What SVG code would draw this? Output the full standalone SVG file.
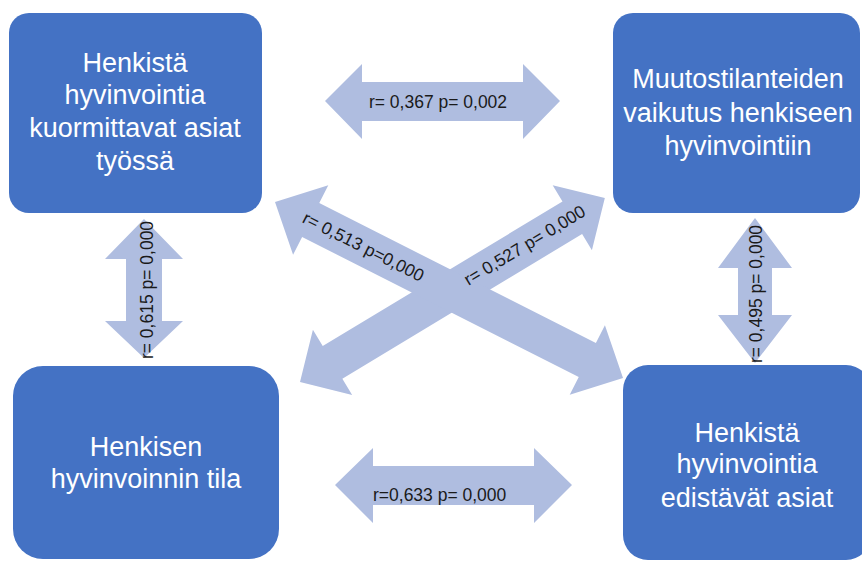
<svg xmlns="http://www.w3.org/2000/svg" width="862" height="561" viewBox="0 0 862 561">
<style>
.box{fill:#4472C4;}
.bt{font-family:"Liberation Sans",Arial,sans-serif;font-size:27px;fill:#FFFFFF;text-anchor:middle;}
.arr{fill:#AFBDE0;}
.lbl{font-family:"Liberation Sans",Arial,sans-serif;font-size:17.5px;fill:#1a1a1a;}
.mid{text-anchor:middle;}
</style>
<rect width="862" height="561" fill="#FFFFFF"/>
<g id="connectors">
  <polygon id="arrow-top" class="arr" points="325,101 362,64 362,82 523,82 523,64 560,101 523,139 523,121 362,121 362,139"/>
  <polygon id="arrow-bottom" class="arr" points="335,485 373,448 373,466 534,466 534,448 572,485 534,523 534,505 373,505 373,523"/>
  <polygon id="arrow-left" class="arr" points="144,219 183,259 162,259 162,321 183,321 144,358 105,321 126,321 126,259 105,259"/>
  <polygon id="arrow-right" class="arr" points="755,218 792,268 772,268 772,315 792,315 755,363 718,315 738,315 738,268 718,268"/>
  <polygon id="arrow-diag-b" class="arr" transform="translate(300,382) rotate(-31.1)" points="0,0 38,-38 38,-19 318,-19 318,-38 356,0 318,38 318,19 38,19 38,38"/>
  <polygon id="arrow-diag-a" class="arr" transform="translate(275,202) rotate(26.83)" points="0,0 40,-39 40,-19 350,-19 350,-39 390,0 350,39 350,19 40,19 40,39"/>
  <text class="lbl mid" x="438" y="108">r= 0,367 p= 0,002</text>
  <text class="lbl" x="373" y="501">r=0,633 p= 0,000</text>
  <text class="lbl mid" transform="translate(153,290) rotate(-90)">r= 0,615 p= 0,000</text>
  <text class="lbl mid" transform="translate(762,294) rotate(-90)">r= 0,495 p= 0,000</text>
  <text class="lbl mid" transform="translate(300,382) rotate(-31.1)" x="263" y="5">r= 0,527 p= 0,000</text>
  <text class="lbl mid" transform="translate(275,202) rotate(26.83)" x="99" y="6">r= 0,513 p=0,000</text>
</g>
<g id="node-kuormittavat">
  <rect class="box" x="9" y="13" width="253" height="200" rx="20"/>
  <text class="bt" x="135" y="72">Henkistä</text>
  <text class="bt" x="135" y="104">hyvinvointia</text>
  <text class="bt" x="135" y="137">kuormittavat asiat</text>
  <text class="bt" x="135" y="170">työssä</text>
</g>
<g id="node-muutos">
  <rect class="box" x="613" y="13" width="247" height="200" rx="20"/>
  <text class="bt" x="738" y="88">Muutostilanteiden</text>
  <text class="bt" x="738" y="122">vaikutus henkiseen</text>
  <text class="bt" x="738" y="155">hyvinvointiin</text>
</g>
<g id="node-tila">
  <rect class="box" x="13" y="366" width="266" height="193" rx="30"/>
  <text class="bt" x="146" y="456">Henkisen</text>
  <text class="bt" x="146" y="488">hyvinvoinnin tila</text>
</g>
<g id="node-edistavat">
  <rect class="box" x="623" y="365" width="248" height="195" rx="25"/>
  <text class="bt" x="747" y="442">Henkistä</text>
  <text class="bt" x="747" y="473">hyvinvointia</text>
  <text class="bt" x="747" y="507">edistävät asiat</text>
</g>
</svg>
